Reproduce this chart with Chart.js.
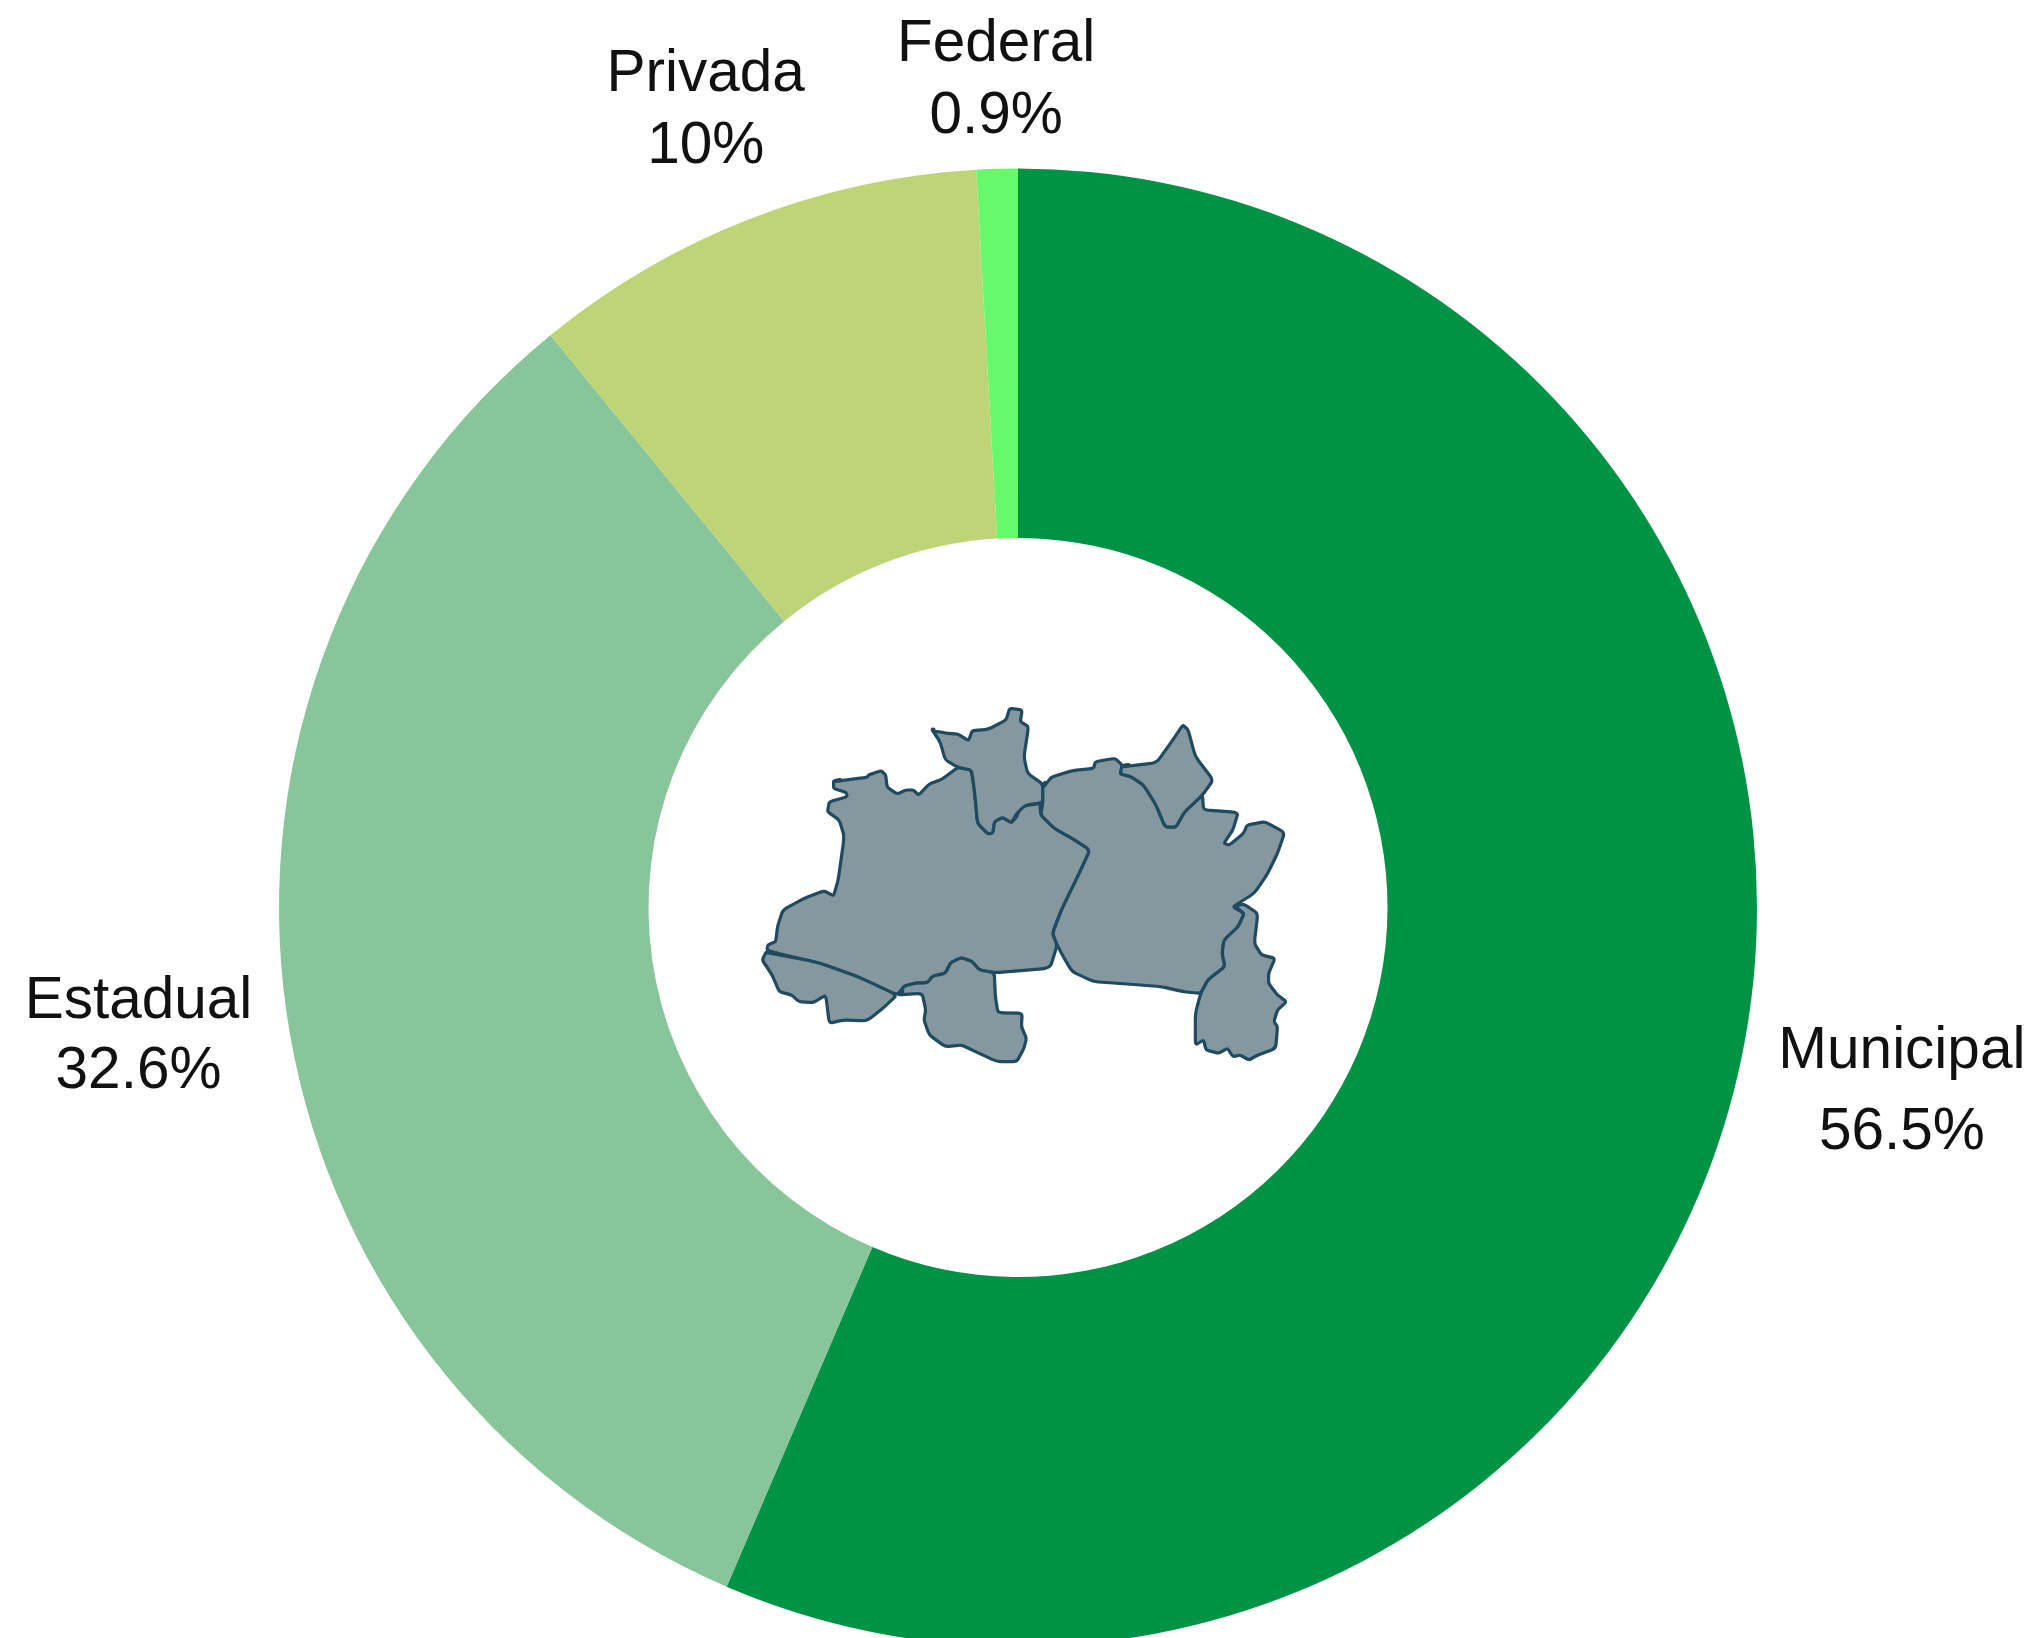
<!DOCTYPE html>
<html>
<head>
<meta charset="utf-8">
<title>Dependência administrativa</title>
<script src="https://cdn.jsdelivr.net/npm/chart.js@4"></script>
<style>
  html, body { margin: 0; padding: 0; background: #fff; overflow: hidden; }
  #wrap { width: 2036px; height: 1638px; overflow: hidden; }
  canvas { display: block; }
</style>
</head>
<body>
<div id="wrap"><canvas id="donut" width="2036" height="1700"></canvas></div>
<script>
var categories = ["Municipal", "Estadual", "Privada", "Federal"];
var shares = [56.45, 32.65, 10, 0.9];
var shareLabels = ["56.5%", "32.6%", "10%", "0.9%"];
var sliceColors = ["#009245", "#89c59a", "#bed577", "#68f86b"];

// label placement relative to the outer middle of each slice: dx, dy, line gap
var labelPlacement = [
  [160, 12.2, 81],
  [-147.7, 7.2, 70],
  [-44.6, -128, 72],
  [-1, -107.5, 72]
];

// region icon outlines
var iconRegions = [
  [[262,300],[355,293],[360,285],[395,272],[408,285],[412,322],[440,342],[465,330],[485,330],[500,345],[530,312],[565,298],[610,262],[648,270],[655,320],[660,370],[665,430],[695,462],[708,458],[712,425],[735,412],[760,428],[775,410],[785,380],[840,370],[842,405],[880,445],[930,475],[980,510],[950,580],[900,690],[875,760],[888,795],[868,865],[712,878],[670,870],[650,845],[620,833],[590,848],[575,880],[540,888],[525,908],[490,910],[460,918],[440,945],[330,890],[225,850],[75,812],[78,795],[100,785],[105,740],[120,690],[180,655],[235,632],[262,648],[275,600],[292,470],[278,420],[245,395],[250,365],[300,350],[298,338],[262,325]],
  [[535,145],[575,160],[610,162],[640,182],[650,152],[695,148],[745,120],[755,85],[790,90],[785,125],[808,140],[795,230],[805,280],[848,312],[848,368],[800,375],[775,400],[760,428],[735,412],[712,425],[708,458],[695,462],[665,430],[660,370],[655,320],[648,270],[610,262],[575,240],[560,185]],
  [[75,812],[225,850],[330,890],[440,945],[400,985],[365,1015],[350,1022],[290,1020],[250,1030],[240,945],[205,968],[165,965],[145,945],[110,935],[90,885],[62,840]],
  [[440,945],[460,918],[490,910],[525,908],[540,888],[575,880],[590,848],[620,833],[650,845],[670,870],[712,878],[715,950],[722,998],[790,1000],[788,1040],[802,1075],[795,1105],[775,1145],[720,1145],[650,1110],[620,1095],[575,1100],[530,1065],[515,1020],[520,990],[510,940]],
  [[848,312],[875,290],[930,272],[990,265],[995,245],[1050,235],[1070,255],[1065,282],[1095,290],[1130,315],[1165,375],[1190,440],[1220,442],[1245,395],[1295,345],[1298,390],[1395,397],[1380,450],[1355,490],[1370,495],[1410,460],[1420,435],[1470,425],[1525,458],[1505,520],[1475,585],[1440,640],[1380,680],[1412,700],[1395,740],[1355,780],[1350,820],[1358,860],[1310,900],[1290,940],[1240,935],[1180,920],[1060,910],[990,905],[930,875],[905,830],[888,795],[875,760],[900,690],[950,580],[980,510],[930,475],[880,445],[842,405],[848,368]],
  [[1070,255],[1165,250],[1215,175],[1240,135],[1255,150],[1275,230],[1325,300],[1295,345],[1245,395],[1220,442],[1190,440],[1165,375],[1130,315],[1095,290],[1065,282]],
  [[1380,680],[1412,700],[1395,740],[1355,780],[1350,820],[1358,860],[1310,900],[1290,940],[1275,1000],[1275,1095],[1298,1080],[1305,1110],[1340,1120],[1365,1105],[1380,1130],[1400,1125],[1425,1140],[1450,1125],[1500,1105],[1505,1040],[1495,1025],[1505,990],[1530,965],[1505,945],[1480,910],[1480,880],[1498,835],[1460,825],[1440,790],[1450,700],[1410,672]]
];

function between(a, b, t) {
  return [a[0] + (b[0] - a[0]) * t, a[1] + (b[1] - a[1]) * t];
}

// outline with slightly rounded corners, keeps the shared borders together
function regionPath(points, originX, originY) {
  var pts = points.map(function (p) {
    return [originX + p[0] / 2.8, originY + p[1] / 3];
  });
  var n = pts.length;
  var path = new Path2D();
  var start = between(pts[0], pts[n - 1], 0.2);
  path.moveTo(start[0], start[1]);
  for (var i = 0; i < n; i++) {
    var next = pts[(i + 1) % n];
    var afterNext = pts[(i + 2) % n];
    var lineEnd = between(next, pts[i], 0.2);
    var curveEnd = between(next, afterNext, 0.2);
    path.lineTo(lineEnd[0], lineEnd[1]);
    path.quadraticCurveTo(next[0], next[1], curveEnd[0], curveEnd[1]);
  }
  path.closePath();
  return path;
}

// draws the percentage labels beside the slices
var sliceLabels = {
  id: "sliceLabels",
  afterDatasetsDraw: function (chart) {
    var ctx = chart.ctx;
    var arcs = chart.getDatasetMeta(0).data;
    ctx.save();
    ctx.font = '58.5px "Liberation Sans"';
    ctx.fillStyle = "#111";
    ctx.textAlign = "center";
    ctx.textBaseline = "alphabetic";
    arcs.forEach(function (arc, i) {
      var mid = (arc.startAngle + arc.endAngle) / 2;
      var px = arc.x + Math.cos(mid) * arc.outerRadius + labelPlacement[i][0];
      var py = arc.y + Math.sin(mid) * arc.outerRadius + labelPlacement[i][1];
      ctx.fillText(categories[i], px, py);
      ctx.fillText(shareLabels[i], px, py + labelPlacement[i][2]);
    });
    ctx.restore();
  },
};

// draws the region icon in the hole of the donut
var centerIcon = {
  id: "centerIcon",
  afterDatasetsDraw: function (chart) {
    var ctx = chart.ctx;
    var arc = chart.getDatasetMeta(0).data[0];
    ctx.save();
    ctx.fillStyle = "#85979f";
    ctx.strokeStyle = "#1f4a60";
    ctx.lineWidth = 3.2;
    ctx.lineJoin = "round";
    iconRegions.forEach(function (points) {
      var path = regionPath(points, arc.x - 278, arc.y - 227.5);
      ctx.fill(path);
      ctx.stroke(path);
    });
    ctx.restore();
  },
};

new Chart(document.getElementById("donut").getContext("2d"), {
  type: "doughnut",
  data: {
    labels: categories,
    datasets: [
      {
        data: shares,
        backgroundColor: sliceColors,
        borderWidth: 0,
      },
    ],
  },
  options: {
    responsive: false,
    animation: false,
    cutout: "50%",
    layout: {
      padding: { top: 168.5, bottom: 53.5, left: 279, right: 279 },
    },
    plugins: {
      legend: { display: false },
      tooltip: { enabled: false },
    },
  },
  plugins: [sliceLabels, centerIcon],
});
</script>
</body>
</html>
